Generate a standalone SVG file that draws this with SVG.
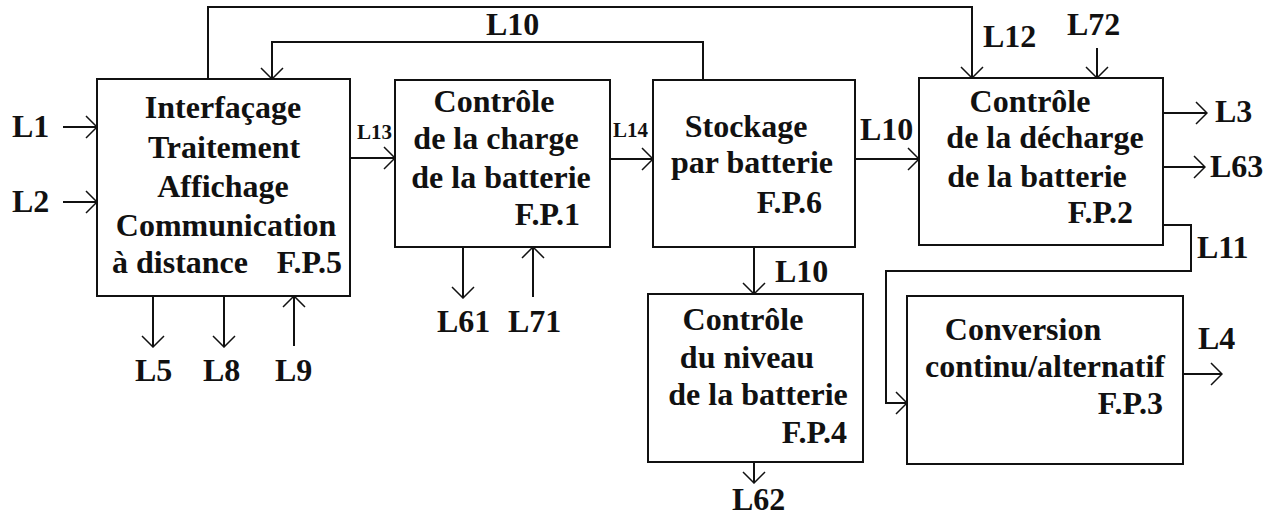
<svg xmlns="http://www.w3.org/2000/svg" width="1281" height="515" viewBox="0 0 1281 515">
<style>
.box{fill:#fff;stroke:#111;stroke-width:2}
.t{font-family:"Liberation Serif","Times New Roman",serif;font-weight:bold;font-size:32px;fill:#111}
.m{text-anchor:middle}
.e{text-anchor:end}
.s{font-size:21px}
.c{fill:none;stroke:#111;stroke-width:2;marker-end:url(#ah)}
</style>
<defs>
<marker id="ah" markerUnits="userSpaceOnUse" viewBox="-13 -13 14 26" refX="0" refY="0" markerWidth="14" markerHeight="26" orient="auto">
<path d="M-11,-11 L0,0 L-11,11" fill="none" stroke="#111" stroke-width="1.5"/>
</marker>
</defs>
<rect width="1281" height="515" fill="#fff"/>
<g id="connectors">
<path class="c" d="M63 127 H97"/>
<path class="c" d="M63 202 H97"/>
<path class="c" d="M350 158 H395"/>
<path class="c" d="M610 159 H653"/>
<path class="c" d="M703 80 V42 H272 V79"/>
<path class="c" d="M208 79 V7 H972 V78"/>
<path class="c" d="M1097 48 V78"/>
<path class="c" d="M855 159 H919"/>
<path class="c" d="M1163 113 H1207"/>
<path class="c" d="M1163 167 H1205"/>
<path class="c" d="M1163 225 H1191 V271 H886 V403 H907"/>
<path class="c" d="M1183 374 H1222"/>
<path class="c" d="M754 247 V294"/>
<path class="c" d="M754 462 V483"/>
<path class="c" d="M463 247 V298"/>
<path class="c" d="M533 297 V247"/>
<path class="c" d="M153 296 V347"/>
<path class="c" d="M224 296 V347"/>
<path class="c" d="M294 346 V296"/>
<text class="t" x="12" y="137">L1</text>
<text class="t" x="12" y="212">L2</text>
<text class="t s" x="357" y="139">L13</text>
<text class="t s" x="613" y="137">L14</text>
<text class="t" x="486" y="35">L10</text>
<text class="t" x="860" y="140">L10</text>
<text class="t" x="983" y="47">L12</text>
<text class="t" x="1067" y="35">L72</text>
<text class="t" x="1215" y="122">L3</text>
<text class="t" x="1210" y="177">L63</text>
<text class="t" x="1197" y="258">L11</text>
<text class="t" x="1198" y="349">L4</text>
<text class="t" x="775" y="282">L10</text>
<text class="t" x="732" y="510">L62</text>
<text class="t" x="437" y="332">L61</text>
<text class="t" x="508" y="332">L71</text>
<text class="t" x="135" y="381">L5</text>
<text class="t" x="203" y="381">L8</text>
<text class="t" x="275" y="381">L9</text>
</g>
<g id="fp5">
<rect class="box" x="97" y="79" width="253" height="217"/>
<text class="t m" x="223" y="118">Interfaçage</text>
<text class="t m" x="224" y="158">Traitement</text>
<text class="t m" x="223" y="197">Affichage</text>
<text class="t m" x="226" y="236">Communication</text>
<text class="t" x="112" y="273">à distance</text>
<text class="t e" x="342" y="273">F.P.5</text>
</g>
<g id="fp1">
<rect class="box" x="395" y="80" width="215" height="167"/>
<text class="t m" x="494" y="112">Contrôle</text>
<text class="t m" x="496" y="149">de la charge</text>
<text class="t m" x="501" y="188">de la batterie</text>
<text class="t e" x="580" y="225">F.P.1</text>
</g>
<g id="fp6">
<rect class="box" x="653" y="80" width="202" height="167"/>
<text class="t m" x="746" y="137">Stockage</text>
<text class="t m" x="752" y="173">par batterie</text>
<text class="t e" x="822" y="213">F.P.6</text>
</g>
<g id="fp2">
<rect class="box" x="919" y="78" width="244" height="167"/>
<text class="t m" x="1030" y="112">Contrôle</text>
<text class="t m" x="1045" y="148">de la décharge</text>
<text class="t m" x="1037" y="187">de la batterie</text>
<text class="t e" x="1133" y="223">F.P.2</text>
</g>
<g id="fp3">
<rect class="box" x="907" y="296" width="276" height="168"/>
<text class="t m" x="1023" y="340">Conversion</text>
<text class="t m" x="1045" y="377">continu/alternatif</text>
<text class="t e" x="1163" y="414">F.P.3</text>
</g>
<g id="fp4">
<rect class="box" x="648" y="294" width="215" height="168"/>
<text class="t m" x="743" y="330">Contrôle</text>
<text class="t m" x="747" y="368">du niveau</text>
<text class="t m" x="758" y="405">de la batterie</text>
<text class="t e" x="847" y="443">F.P.4</text>
</g>
</svg>
